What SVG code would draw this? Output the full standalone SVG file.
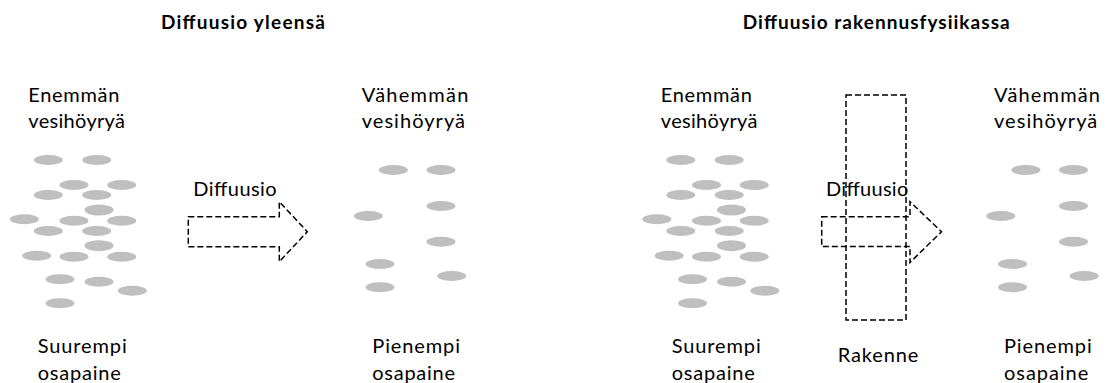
<svg xmlns="http://www.w3.org/2000/svg" width="1106" height="383" viewBox="0 0 1106 383">
  <style>
    .t { font-family: Lato, "Open Sans", "Liberation Sans", sans-serif; font-size: 20px; fill: #000; }
    .h { font-family: Lato, "Open Sans", "Liberation Sans", sans-serif; font-size: 19px; font-weight: bold; fill: #000; }
    .m { fill: #BFBFBF; stroke: none; }
    .d { fill: none; stroke: #000; stroke-width: 1.5; stroke-dasharray: 6 3; }
  </style>
  <defs>
    <g id="dense">
      <ellipse class="m" cx="48.3" cy="160" rx="14.5" ry="5"/>
      <ellipse class="m" cx="96.7" cy="160" rx="14.5" ry="5"/>
      <ellipse class="m" cx="74" cy="185" rx="14.5" ry="5"/>
      <ellipse class="m" cx="121.7" cy="185" rx="14.5" ry="5"/>
      <ellipse class="m" cx="48.3" cy="195" rx="14.5" ry="5"/>
      <ellipse class="m" cx="96.7" cy="195" rx="14.5" ry="5"/>
      <ellipse class="m" cx="99" cy="210" rx="14.5" ry="5.5"/>
      <ellipse class="m" cx="24.3" cy="219.3" rx="14.5" ry="5"/>
      <ellipse class="m" cx="74" cy="220.7" rx="14.5" ry="5"/>
      <ellipse class="m" cx="121.7" cy="220.7" rx="14.5" ry="5"/>
      <ellipse class="m" cx="48.3" cy="231" rx="14.5" ry="5"/>
      <ellipse class="m" cx="96.7" cy="231" rx="14.5" ry="5"/>
      <ellipse class="m" cx="99" cy="245.7" rx="14.5" ry="5.5"/>
      <ellipse class="m" cx="36.7" cy="255.7" rx="14.5" ry="5"/>
      <ellipse class="m" cx="74" cy="256.7" rx="14.5" ry="5"/>
      <ellipse class="m" cx="121.7" cy="256.7" rx="14.5" ry="5"/>
      <ellipse class="m" cx="60" cy="279.3" rx="14.5" ry="5"/>
      <ellipse class="m" cx="99" cy="281.7" rx="14.5" ry="5"/>
      <ellipse class="m" cx="132.3" cy="290.7" rx="14.5" ry="5"/>
      <ellipse class="m" cx="60" cy="303.3" rx="14.5" ry="5"/>
    </g>
    <g id="sparse">
      <ellipse class="m" cx="393.3" cy="170" rx="14.5" ry="5"/>
      <ellipse class="m" cx="441" cy="170" rx="14.5" ry="5"/>
      <ellipse class="m" cx="441" cy="206" rx="14.5" ry="5"/>
      <ellipse class="m" cx="368.3" cy="216" rx="14.5" ry="5"/>
      <ellipse class="m" cx="441" cy="241.7" rx="14.5" ry="5"/>
      <ellipse class="m" cx="380" cy="264" rx="14.5" ry="5"/>
      <ellipse class="m" cx="451.7" cy="276" rx="14.5" ry="5"/>
      <ellipse class="m" cx="380" cy="287.3" rx="14.5" ry="5"/>
    </g>
  </defs>

  <g id="title-general">
    <text class="h" x="161" y="29.3" textLength="164">Diffuusio yleensä</text>
  </g>
  <g id="title-building">
    <text class="h" x="742.7" y="29.3" textLength="267">Diffuusio rakennusfysiikassa</text>
  </g>

  <g id="left-high">
    <text class="t" x="28.3" y="101.7" textLength="91">Enemmän</text>
    <text class="t" x="28.3" y="128.3" textLength="96.7">vesihöyryä</text>
    <use href="#dense"/>
    <text class="t" x="37.7" y="353.3" textLength="89">Suurempi</text>
    <text class="t" x="37.7" y="379.5" textLength="83">osapaine</text>
  </g>

  <g id="left-low">
    <text class="t" x="361.7" y="101.7" textLength="106.6">Vähemmän</text>
    <text class="t" x="361.7" y="128.3" textLength="103.3">vesihöyryä</text>
    <use href="#sparse"/>
    <text class="t" x="372.3" y="353.3" textLength="87.7">Pienempi</text>
    <text class="t" x="372.3" y="379.5" textLength="82.7">osapaine</text>
  </g>

  <g id="right-high" transform="translate(632.5,0)">
    <text class="t" x="28.3" y="101.7" textLength="91">Enemmän</text>
    <text class="t" x="28.3" y="128.3" textLength="96.7">vesihöyryä</text>
    <use href="#dense"/>
    <text class="t" x="39.2" y="353.3" textLength="89">Suurempi</text>
    <text class="t" x="39.2" y="379.5" textLength="83">osapaine</text>
  </g>

  <g id="structure">
    <rect class="d" x="846" y="95" width="60" height="225"/>
    <text class="t" x="837.7" y="361.7" textLength="80.6">Rakenne</text>
  </g>

  <g id="right-low" transform="translate(632.5,0)">
    <text class="t" x="361.5" y="101.7" textLength="106">Vähemmän</text>
    <text class="t" x="361.5" y="128.3" textLength="103.3">vesihöyryä</text>
    <use href="#sparse"/>
    <text class="t" x="371.5" y="353.3" textLength="87.7">Pienempi</text>
    <text class="t" x="371.5" y="379.5" textLength="84.3">osapaine</text>
  </g>

  <g id="connectors">
    <g id="arrow-general">
      <path class="d" d="M188.3,216.7 H279.3 V201.7 L307.3,231.7 L279.3,261.7 V246.7 H188.3 Z"/>
      <text class="t" x="193.3" y="196" textLength="83.4">Diffuusio</text>
    </g>
    <g id="arrow-building">
      <path class="d" d="M821.7,216.7 H910 V201.7 L941.5,231.7 L910,262.5 V246.5 H821.7 Z"/>
      <text class="t" x="826" y="196" textLength="82.3">Diffuusio</text>
    </g>
  </g>
</svg>
